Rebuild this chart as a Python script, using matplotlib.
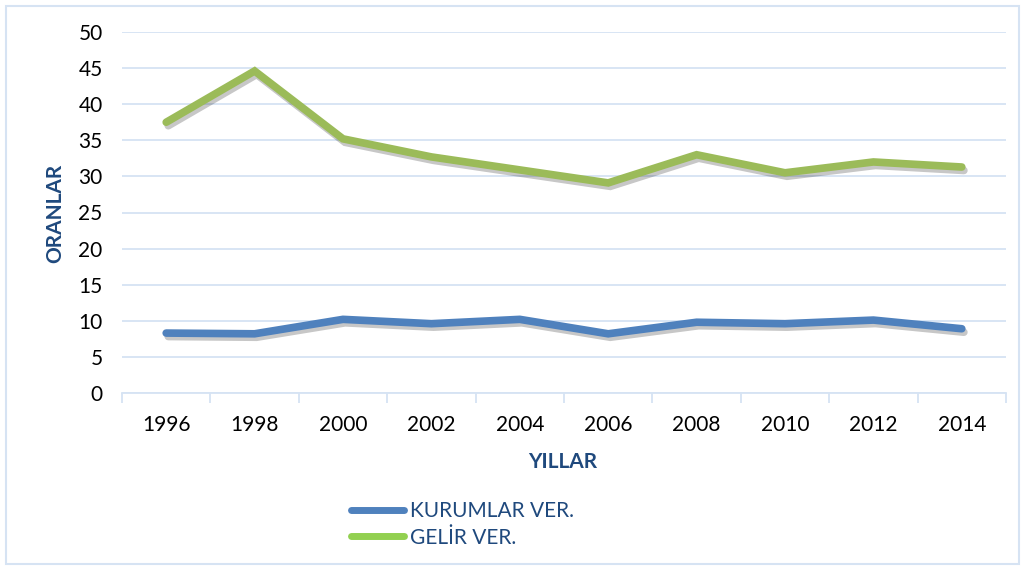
import matplotlib
matplotlib.use("Agg")
import matplotlib.pyplot as plt
import matplotlib.patheffects as pe
from matplotlib.patches import Rectangle
from matplotlib.lines import Line2D

years = ["1996", "1998", "2000", "2002", "2004", "2006", "2008", "2010", "2012", "2014"]
kurumlar = [8.3, 8.2, 10.2, 9.6, 10.2, 8.2, 9.8, 9.6, 10.1, 8.9]
gelir = [37.5, 44.6, 35.2, 32.7, 30.9, 29.1, 33.0, 30.5, 32.0, 31.3]
yticks = [0, 5, 10, 15, 20, 25, 30, 35, 40, 45, 50]

plt.rcParams['font.family'] = ['Lato', 'DejaVu Sans']

fig = plt.figure(figsize=(10.25, 5.7), dpi=100)
ax = fig.add_axes([122/1025, 1-393/570, (1006-122)/1025, (393-32)/570])

grid_c = "#D6E3F3"
x = list(range(len(years)))
shadow = [pe.SimpleLineShadow(offset=(1.5, -2.5), shadow_color="black", alpha=0.22), pe.Normal()]
ax.plot(x, kurumlar, color="#4F81BD", lw=5.5, solid_capstyle="round", solid_joinstyle="miter", path_effects=shadow, zorder=3)
ax.plot(x, gelir, color="#9BBB59", lw=5.5, solid_capstyle="round", solid_joinstyle="miter", path_effects=shadow, zorder=3)

ax.set_xlim(-0.5, len(years) - 0.5)
ax.set_ylim(0, 50)
ax.set_yticks(yticks)
ax.set_yticklabels([str(v) for v in yticks], fontsize=15)
ax.set_xticks(x)
ax.set_xticklabels(years, fontsize=15)
ax.tick_params(axis="y", length=0, pad=14)
ax.tick_params(axis="x", length=0, pad=16)
# minor ticks at category boundaries
ax.set_xticks([i - 0.5 for i in range(len(years) + 1)], minor=True)
ax.tick_params(axis="x", which="minor", length=7, color=grid_c, width=1.3)
ax.grid(axis="y", color=grid_c, lw=1.3)
ax.set_axisbelow(True)
for s in ["top", "right", "left"]:
    ax.spines[s].set_visible(False)
ax.spines["bottom"].set_color(grid_c)
ax.spines["bottom"].set_linewidth(1.3)

title_c = "#1F497D"
fig.text(55/1025, 1-213/570, "ORANLAR", rotation=90, ha="center", va="center", fontsize=15, fontweight="bold", color=title_c)
fig.text(563/1025, 1-462/570, "YILLAR", ha="center", va="center", fontsize=15, fontweight="bold", color=title_c)

handles = [Line2D([], [], color="#4F81BD", lw=5, solid_capstyle="round"),
           Line2D([], [], color="#92D050", lw=5, solid_capstyle="round")]
leg = fig.legend(handles, ["KURUMLAR VER.", "GELİR VER."], loc="upper left",
                 bbox_to_anchor=(341/1025, 1-491/570), frameon=False, fontsize=15,
                 handlelength=2.5, handletextpad=0.3, labelspacing=0.3, borderpad=0)
for t in leg.get_texts():
    t.set_color(title_c)

fig.patches.append(Rectangle((6/1025, 6/570), 1013/1025, 558/570, transform=fig.transFigure,
                             fill=False, edgecolor="#D6E3F3", lw=1.5))

fig.savefig("out.png", dpi=100)
